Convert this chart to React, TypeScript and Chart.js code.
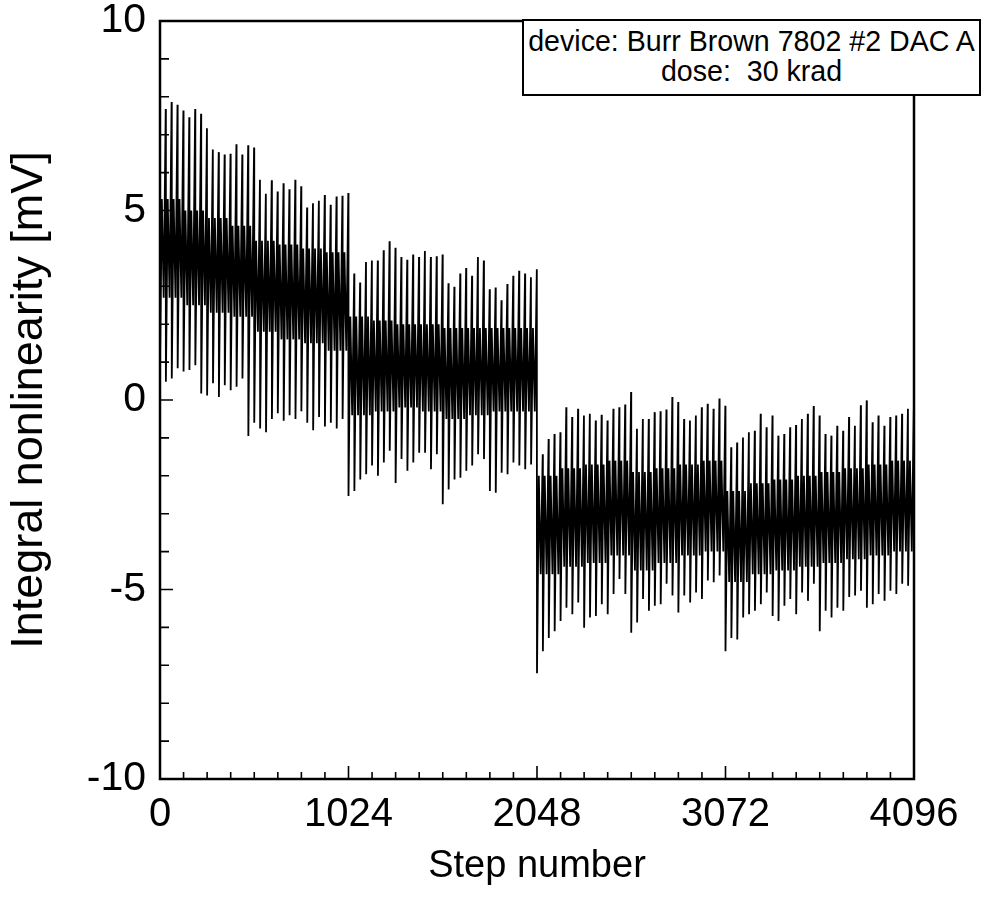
import React, { useEffect, useRef } from "react";
import { Chart, registerables } from "chart.js";

Chart.register(...registerables);

// ---- data ----
const xTickValues = [0, 1024, 2048, 3072, 4096];
const yTickValues = [-10, -5, 0, 5, 10];
const xMinorStep = 128;
const yMinorStep = 1;
const stepsPerPeriod = 32;
// step offsets inside each 32-step period: low, band top, band bottom, high
const periodOffsets = [0, 10, 20, 31];

// peak (end of period) and trough (start of period) values, mV, per 32-step period
const highQ1 = [7.68, 7.86, 7.79, 7.64, 7.46, 7.68, 7.55, 7.17, 6.61, 6.54, 6.48, 6.5, 6.75, 6.48, 6.72, 6.66, 5.81, 5.44, 5.8, 5.5, 5.72, 5.56, 5.81, 5.64, 5.08, 5.19, 5.26, 5.41, 5.15, 5.37, 5.39, 5.46];
const lowQ1 = [0.9, 0.48, 0.57, 0.84, 0.75, 0.79, 0.92, 0.17, 0.12, 0.44, 0.08, 0.39, 0.26, 0.35, 0.57, -0.95, -0.6, -0.75, -0.85, -0.5, -0.35, -0.55, -0.4, -0.5, -0.3, -0.6, -0.8, -0.45, -0.7, -0.6, -0.75, -0.5];
const highQ2 = [3.34, 3.1, 3.64, 3.68, 3.68, 3.95, 4.19, 4.02, 3.77, 3.7, 3.84, 3.77, 3.93, 3.77, 3.79, 3.84, 3.08, 2.99, 3.34, 3.48, 3.28, 3.77, 3.68, 2.92, 2.97, 2.63, 3.06, 3.28, 3.41, 3.34, 3.24, 3.45];
const lowQ2 = [-2.53, -2.4, -2.1, -1.96, -1.73, -2.0, -1.65, -1.34, -2.19, -1.56, -1.87, -1.65, -1.39, -1.39, -1.83, -1.43, -2.75, -2.36, -2.1, -2.05, -1.87, -1.73, -1.43, -1.56, -2.4, -2.45, -1.92, -1.96, -1.65, -1.73, -1.83, -1.7];
const highQ3 = [-1.43, -1.03, -0.9, -0.85, -0.19, -0.45, -0.23, -0.41, -0.36, -0.54, -0.39, -0.54, -0.23, -0.19, -0.12, 0.21, -0.76, -0.5, -0.5, -0.32, -0.3, -0.25, 0.08, -0.05, -0.5, -0.54, -0.41, -0.19, -0.1, -0.23, 0.04, -0.15];
const lowQ3 = [-7.21, -6.63, -6.28, -6.1, -5.83, -5.48, -5.65, -5.34, -6.01, -5.74, -5.7, -5.39, -5.65, -5.12, -4.72, -5.12, -6.14, -5.87, -5.25, -5.56, -5.43, -5.39, -4.85, -5.16, -5.61, -5.16, -5.34, -5.08, -5.25, -4.76, -4.81, -4.63];
const highQ4 = [-1.25, -1.12, -0.99, -0.85, -0.81, -0.36, -0.72, -0.41, -0.94, -0.9, -0.72, -0.66, -0.5, -0.36, -0.16, -0.41, -0.9, -0.94, -0.68, -0.81, -0.45, -0.68, -0.14, -0.01, -0.59, -0.41, -0.68, -0.45, -0.41, -0.36, -0.23, -0.25];
const lowQ4 = [-6.63, -6.28, -6.32, -5.74, -5.65, -5.56, -5.39, -5.08, -5.7, -5.83, -5.43, -5.25, -5.65, -5.08, -5.3, -4.85, -6.1, -5.56, -5.74, -5.48, -5.56, -5.2, -5.16, -5.03, -5.48, -5.39, -5.12, -5.3, -5.03, -5.12, -4.85, -4.9];

// dense middle band (upper / lower edge), one value per 128 steps
const bandTop = [5.3, 5.0, 4.8, 4.6, 4.2, 4.1, 4.0, 3.9, 2.2, 2.1, 2.0, 2.0, 1.9, 1.9, 1.9, 1.9, -2.0, -1.8, -1.7, -1.6, -1.9, -1.8, -1.7, -1.6, -2.4, -2.2, -2.1, -2.0, -1.9, -1.8, -1.7, -1.6];
const bandBottom = [2.7, 2.5, 2.3, 2.2, 1.8, 1.6, 1.5, 1.3, -0.4, -0.3, -0.2, -0.3, -0.5, -0.4, -0.3, -0.3, -4.6, -4.4, -4.3, -4.1, -4.5, -4.3, -4.1, -4.0, -4.8, -4.6, -4.5, -4.4, -4.3, -4.2, -4.1, -4.0];

const legendLines = ["device: Burr Brown 7802 #2 DAC A", "dose:  30 krad"];
const xTitle = "Step number";
const yTitle = "Integral nonlinearity [mV]";

const periodHigh = [...highQ1, ...highQ2, ...highQ3, ...highQ4];
const periodLow = [...lowQ1, ...lowQ2, ...lowQ3, ...lowQ4];

function buildPoints() {
  const pts: { x: number; y: number }[] = [];
  const periodsPerBand = periodHigh.length / bandTop.length;
  for (let k = 0; k < periodHigh.length; k++) {
    const b = Math.floor(k / periodsPerBand);
    const x0 = k * stepsPerPeriod;
    const ys = [periodLow[k], bandTop[b], bandBottom[b], periodHigh[k]];
    for (let i = 0; i < periodOffsets.length; i++) {
      pts.push({ x: x0 + periodOffsets[i], y: ys[i] });
    }
  }
  return pts;
}

const SANS = "'Liberation Sans', Arial, Helvetica, sans-serif";

const framePlugin = {
  id: "frameTicks",
  afterDraw(chart: any) {
    const { ctx, chartArea: a, scales } = chart;
    const xs = scales.x;
    const ys = scales.y;
    ctx.save();
    ctx.strokeStyle = "#000";
    ctx.lineWidth = 2.5;
    ctx.strokeRect(a.left, a.top, a.right - a.left, a.bottom - a.top);
    ctx.lineWidth = 1.6;
    ctx.beginPath();
    for (let v = xs.min; v <= xs.max; v += xMinorStep) {
      const px = xs.getPixelForValue(v);
      const len = xTickValues.includes(v) ? 13 : 7;
      ctx.moveTo(px, a.bottom);
      ctx.lineTo(px, a.bottom - len);
    }
    for (let v = ys.min; v <= ys.max; v += yMinorStep) {
      const py = ys.getPixelForValue(v);
      const len = yTickValues.includes(v) ? 13 : 9;
      ctx.moveTo(a.left, py);
      ctx.lineTo(a.left + len, py);
    }
    ctx.stroke();
    ctx.restore();
  },
};

export default function App() {
  const ref = useRef<HTMLCanvasElement | null>(null);
  useEffect(() => {
    document.body.style.margin = "0";
    const canvas = ref.current;
    if (!canvas) return;
    const chart = new Chart(canvas, {
      type: "line",
      data: {
        datasets: [
          {
            data: buildPoints(),
            borderColor: "#000",
            borderWidth: 1.8,
            pointRadius: 0,
            tension: 0,
            fill: false,
          },
        ],
      },
      options: {
        animation: false,
        responsive: false,
        parsing: false,
        normalized: true,
        layout: { padding: { top: 21, right: 67, left: 0, bottom: 0 } },
        plugins: { legend: { display: false }, tooltip: { enabled: false } },
        scales: {
          x: {
            type: "linear",
            min: 0,
            max: 4096,
            afterBuildTicks: (s: any) => {
              s.ticks = xTickValues.map((v) => ({ value: v }));
            },
            afterFit: (s: any) => {
              s.height = 132;
              s.paddingLeft = 0;
              s.paddingRight = 0;
            },
            grid: { display: false, drawTicks: false },
            border: { display: false },
            ticks: {
              color: "#000",
              font: { family: SANS, size: 40 },
              padding: 12,
              maxRotation: 0,
              autoSkip: false,
              callback: (v: any) => String(v),
            },
            title: {
              display: true,
              text: xTitle,
              color: "#000",
              font: { family: SANS, size: 38 },
              padding: { top: 0, bottom: 22 },
            },
          },
          y: {
            type: "linear",
            min: -10,
            max: 10,
            afterBuildTicks: (s: any) => {
              s.ticks = yTickValues.map((v) => ({ value: v }));
            },
            afterFit: (s: any) => {
              s.width = 160;
              s.paddingTop = 0;
              s.paddingBottom = 0;
            },
            grid: { display: false, drawTicks: false },
            border: { display: false },
            ticks: {
              color: "#000",
              font: { family: SANS, size: 41 },
              padding: 14,
              callback: (v: any) => String(v),
            },
            title: {
              display: true,
              text: yTitle,
              color: "#000",
              font: { family: SANS, size: 45 },
              padding: { top: 3, bottom: 0 },
            },
          },
        },
      },
      plugins: [framePlugin],
    } as any);
    return () => chart.destroy();
  }, []);

  return (
    <div style={{ position: "relative", width: 981, height: 911, background: "#fff" }}>
      <canvas ref={ref} width={981} height={911} style={{ display: "block" }} />
      <div
        style={{
          position: "absolute",
          left: 522,
          top: 19,
          width: 455,
          height: 68,
          border: "2px solid #000",
          background: "#fff",
          fontFamily: SANS,
          fontSize: 28.6,
          lineHeight: "30px",
          textAlign: "center",
          paddingTop: 5,
          boxSizing: "content-box",
          color: "#000",
          whiteSpace: "pre",
        }}
      >
        {legendLines.map((t) => (
          <div key={t}>{t}</div>
        ))}
      </div>
    </div>
  );
}
